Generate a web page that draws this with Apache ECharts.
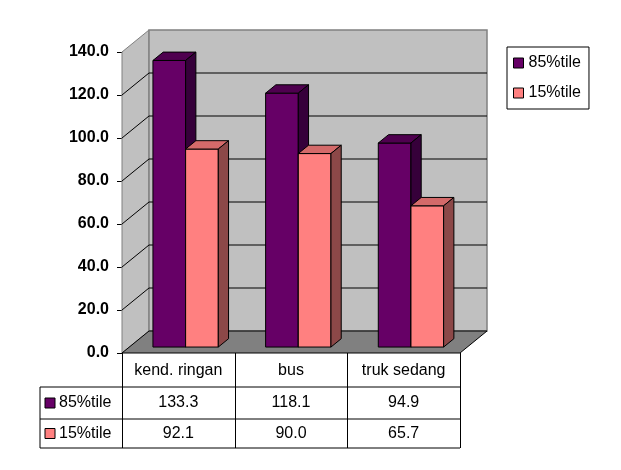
<!DOCTYPE html>
<html>
<head>
<meta charset="utf-8">
<script src="https://cdn.jsdelivr.net/npm/echarts@6/dist/echarts.min.js"></script>
<style>
html,body{margin:0;padding:0;background:#fff}
#chart{width:621px;height:470px}
</style>
</head>
<body>
<div id="chart"></div>
<script>
// data
const categories=['kend. ringan','bus','truk sedang'];
const seriesNames=['85%tile','15%tile'];
const p85=[133.3,118.1,94.9];
const p15=[92.1,90.0,65.7];
const yTicks=[0,20,40,60,80,100,120,140];

const font='Arial, "Liberation Sans", sans-serif';
const gridL=122,gridT=52,gridW=338,gridH=301;
const DX=27,DY=-22;          // depth of the box
const barShift=0.27,barDepth=0.38;
const faces=[
    {front:'#660066',top:'#4f004f',side:'#36003a'},
    {front:'#FF8080',top:'#D46A6A',side:'#8C4848'}
];

function renderWalls(params,api){
    const cs=params.coordSys;
    const x0=cs.x,x1=cs.x+cs.width,yt=cs.y,yb=cs.y+cs.height;
    const kids=[];
    kids.push({type:'polygon',shape:{points:[[x0,yb],[x0,yt],[x0+DX,yt+DY],[x0+DX,yb+DY]]},
        style:{fill:'#C0C0C0',stroke:'#808080',lineWidth:1}});
    kids.push({type:'rect',shape:{x:x0+DX,y:yt+DY,width:cs.width,height:cs.height},
        style:{fill:'#C0C0C0',stroke:'#808080',lineWidth:1.5}});
    yTicks.forEach(function(v){
        if(v===yTicks[0]||v===yTicks[yTicks.length-1])return;
        const y=api.coord([0,v])[1];
        kids.push({type:'polyline',shape:{points:[[x0,y],[x0+DX,y+DY],[x1+DX,y+DY]]},
            style:{stroke:'#000',lineWidth:1,fill:null}});
    });
    kids.push({type:'polygon',shape:{points:[[x0,yb],[x1,yb],[x1+DX,yb+DY],[x0+DX,yb+DY]]},
        style:{fill:'#808080',stroke:'#000',lineWidth:1}});
    return {type:'group',children:kids};
}

function barRenderer(si){
    return function(params,api){
        const c=api.value(0),v=api.value(1);
        const base=api.coord([c,0]),top=api.coord([c,v]);
        const band=api.size([1,0])[0];
        const w=band*0.29;
        const sx=DX*barShift,sy=DY*barShift;
        const bdx=DX*barDepth,bdy=DY*barDepth;
        const xl=base[0]+sx+(si===0?-w:0),xr=xl+w;
        const yb=base[1]+sy,yt=top[1]+sy;
        const f=faces[si];
        const st={stroke:'#000',lineWidth:1};
        return {type:'group',children:[
            {type:'rect',shape:{x:xl,y:yt,width:w,height:yb-yt},style:Object.assign({fill:f.front},st)},
            {type:'polygon',shape:{points:[[xl,yt],[xr,yt],[xr+bdx,yt+bdy],[xl+bdx,yt+bdy]]},style:Object.assign({fill:f.top},st)},
            {type:'polygon',shape:{points:[[xr,yt],[xr+bdx,yt+bdy],[xr+bdx,yb+bdy],[xr,yb]]},style:Object.assign({fill:f.side},st)}
        ]};
    };
}

// data table under the plot
function buildTable(){
    const rows=[[353,387],[387,419],[419,448]];
    const leftX=40,rightX=gridL+gridW;
    const colW=gridW/categories.length;
    const g=[];
    const line=(x1,y1,x2,y2)=>g.push({type:'line',shape:{x1:x1,y1:y1,x2:x2,y2:y2},style:{stroke:'#000',lineWidth:1},silent:true});
    line(leftX,rows[1][0],rightX,rows[1][0]);
    line(leftX,rows[2][0],rightX,rows[2][0]);
    line(leftX,rows[2][1],rightX,rows[2][1]);
    line(leftX,rows[1][0],leftX,rows[2][1]);
    for(let i=0;i<=categories.length;i++){
        const x=Math.round(gridL+i*colW)+0.5;
        line(x,rows[0][0],x,rows[2][1]);
    }
    const vals=[p85,p15];
    vals.forEach(function(arr,r){
        const yc=(rows[r+1][0]+rows[r+1][1])/2;
        g.push({type:'rect',shape:{x:45,y:yc-5,width:10,height:10},style:{fill:faces[r].front,stroke:'#000',lineWidth:1}});
        g.push({type:'text',x:59,y:yc,style:{text:seriesNames[r],font:'16px '+font,fill:'#000',verticalAlign:'middle'}});
        arr.forEach(function(v,i){
            g.push({type:'text',x:gridL+(i+0.5)*colW,y:yc,style:{text:v.toFixed(1),font:'16px '+font,fill:'#000',align:'center',verticalAlign:'middle'}});
        });
    });
    return g;
}

var myChart=echarts.init(document.getElementById('chart'));
var option={
    backgroundColor:'#fff',
    animation:false,
    grid:{left:gridL,top:gridT,width:gridW,height:gridH},
    legend:{
        orient:'vertical',
        left:507,top:47,
        padding:[8,8,8,6],
        itemGap:14,
        itemWidth:10,itemHeight:10,
        borderColor:'#000',borderWidth:1,
        icon:'rect',
        textStyle:{fontSize:16,fontFamily:font,color:'#000'},
        data:seriesNames.map((n,i)=>({name:n,itemStyle:{color:faces[i].front,borderColor:'#000',borderWidth:1}}))
    },
    xAxis:{
        type:'category',
        data:categories,
        axisLine:{show:false},
        axisTick:{show:false},
        axisLabel:{margin:10,fontSize:16,fontFamily:font,color:'#000',interval:0},
        splitLine:{show:false}
    },
    yAxis:{
        type:'value',
        min:yTicks[0],max:yTicks[yTicks.length-1],interval:20,
        axisLine:{show:true,lineStyle:{color:'#000',width:1}},
        axisTick:{show:true,length:5,lineStyle:{color:'#000'}},
        axisLabel:{margin:13,fontSize:16,fontWeight:'bold',fontFamily:font,color:'#000',
            formatter:function(v){return v.toFixed(1);}},
        splitLine:{show:false}
    },
    series:[
        {type:'custom',name:'walls',silent:true,z:1,renderItem:renderWalls,data:[[0,0]]},
        {type:'custom',name:seriesNames[0],z:2,renderItem:barRenderer(0),
            itemStyle:{color:faces[0].front},data:p85.map((v,i)=>[i,v])},
        {type:'custom',name:seriesNames[1],z:3,renderItem:barRenderer(1),
            itemStyle:{color:faces[1].front},data:p15.map((v,i)=>[i,v])}
    ],
    graphic:buildTable()
};
myChart.setOption(option);
</script>
</body>
</html>
